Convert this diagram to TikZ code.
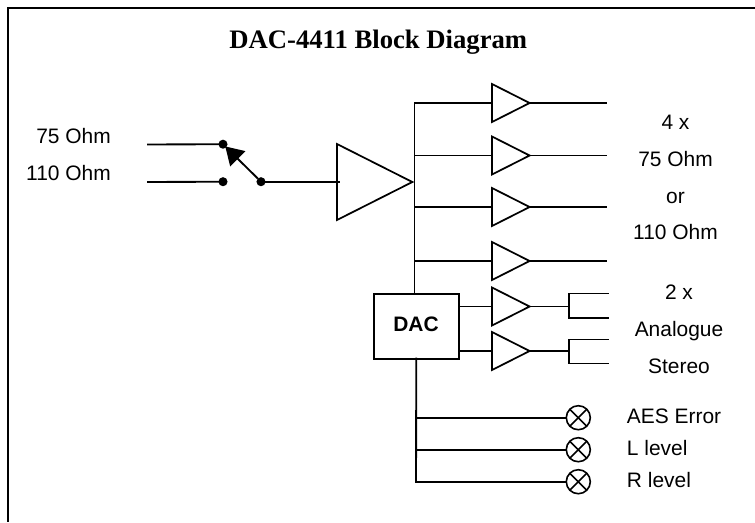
\documentclass[tikz,border=0pt]{standalone}
\usepackage{fontspec}
\setmainfont{Liberation Sans}
\newfontfamily\titlefont{Liberation Serif}
\usetikzlibrary{shapes.geometric,arrows.meta}
\tikzset{
  wire/.style={line width=1.4pt,line cap=rect},
  frameline/.style={line width=1.7pt},
  dot/.style={circle,fill=black,draw=none,minimum size=6.8pt,inner sep=0pt,outer sep=0pt},
  amp/.style={isosceles triangle,isosceles triangle stretches,shape border rotate=0,draw,line width=1.3pt,
    fill=white,inner sep=0pt,outer sep=0pt,anchor=lower side,minimum width=28.5pt,minimum height=28.2pt},
  bigamp/.style={amp,minimum width=57pt,minimum height=56.5pt},
  block/.style={draw,line width=1.4pt,inner sep=0pt,outer sep=0pt,minimum width=63.5pt,minimum height=48.5pt},
  lamp/.style={circle,draw,line width=1.2pt,minimum size=18pt,inner sep=0pt,outer sep=0pt},
  lbl/.style={font=\fontsize{15.7pt}{17pt}\selectfont,inner sep=0pt,anchor=base},
  lbll/.style={lbl,anchor=base west},
  lblr/.style={lbl,anchor=base east}
}
\begin{document}
\begin{tikzpicture}[x=0.75pt,y=-0.75pt]
\useasboundingbox (0,0) rectangle (755,522);
\draw[frameline] (755,8) -- (8,8) -- (8,522);
\node[inner sep=0pt,anchor=base,font=\fontsize{20pt}{22pt}\selectfont\titlefont\bfseries] (title) at (378.3,48.3) {DAC-4411 Block Diagram};
% inputs
\node[lblr] (t75) at (111,143.3) {75 Ohm};
\node[lblr] (t110) at (111,180) {110 Ohm};
\coordinate (in75) at (148,144.5);
\coordinate (in110) at (148,182);
\node[dot] (sa) at (223,144.2) {};
\node[dot] (sb) at (223,181.7) {};
\node[dot] (sc) at (261,181.7) {};
\draw[wire] (in75) -- (sa);
\draw[wire] (in110) -- (sb);
\draw[line width=1.4pt,-{Triangle[length=13.2pt,width=15.9pt]},shorten >=-1pt] (sc) -- (sa);
\node[bigamp] (main) at (337,182) {};
\draw[wire] (sc) -- (339,181.7);
% bus
\coordinate (busTop) at (414.5,103);
\node[block] (dac) at (416.3,326.3) {};
\node[inner sep=0pt,anchor=base,font=\fontsize{15.7pt}{17pt}\selectfont\bfseries] (dactxt) at (416,331.7) {DAC};
\draw[wire] (busTop) -- (414.5,294);
% output amps
\foreach \n/\y in {a/103,b/155.5,c/207,d/261}{
  \node[amp] (\n) at (492,\y) {};
  \coordinate (\n o) at (606,\y);
  \draw[wire] (414.5,\y) -- (\n.lower side);
  \draw[wire] (\n.apex) -- (\n o);
}
\foreach \n/\y in {e/306.5,f/351}{
  \node[amp] (\n) at (492,\y) {};
  \draw[wire] (dac.east |- 0,\y) -- (\n.lower side);
  \draw[wire] (\n.apex) -- (569,\y);
}
\coordinate (e1) at (608,293.5);
\coordinate (e2) at (608,318);
\coordinate (f1) at (608,339.5);
\coordinate (f2) at (608,363.5);
\draw[wire] (e1) -- (569,293.5) -- (569,318) -- (e2);
\draw[wire] (f1) -- (569,339.5) -- (569,363.5) -- (f2);
% lamps
\coordinate (busEnd) at (416,481.7);
\draw[wire] (dac.south) -- (busEnd);
\foreach \n/\y in {la/417.7,lb/449.7,lc/481.7}{
  \node[lamp] (\n) at (578.3,\y) {};
  \draw[line width=1.2pt] (\n.north west) -- (\n.south east);
  \draw[line width=1.2pt] (\n.north east) -- (\n.south west);
  \draw[wire] (416,\y) -- (\n.west);
}
% labels
\node[lbl] (o1) at (675.5,129.3) {4 x};
\node[lbl] (o2) at (675.5,166) {75 Ohm};
\node[lbl] (o3) at (675.5,203) {or};
\node[lbl] (o4) at (675.5,239.3) {110 Ohm};
\node[lbl] (p1) at (679,299) {2 x};
\node[lbl] (p2) at (679,336) {Analogue};
\node[lbl] (p3) at (679,373) {Stereo};
\node[lbll] (q1) at (626.7,423.3) {AES Error};
\node[lbll] (q2) at (626.7,455.7) {L level};
\node[lbll] (q3) at (626.7,487.7) {R level};
\end{tikzpicture}
\end{document}
